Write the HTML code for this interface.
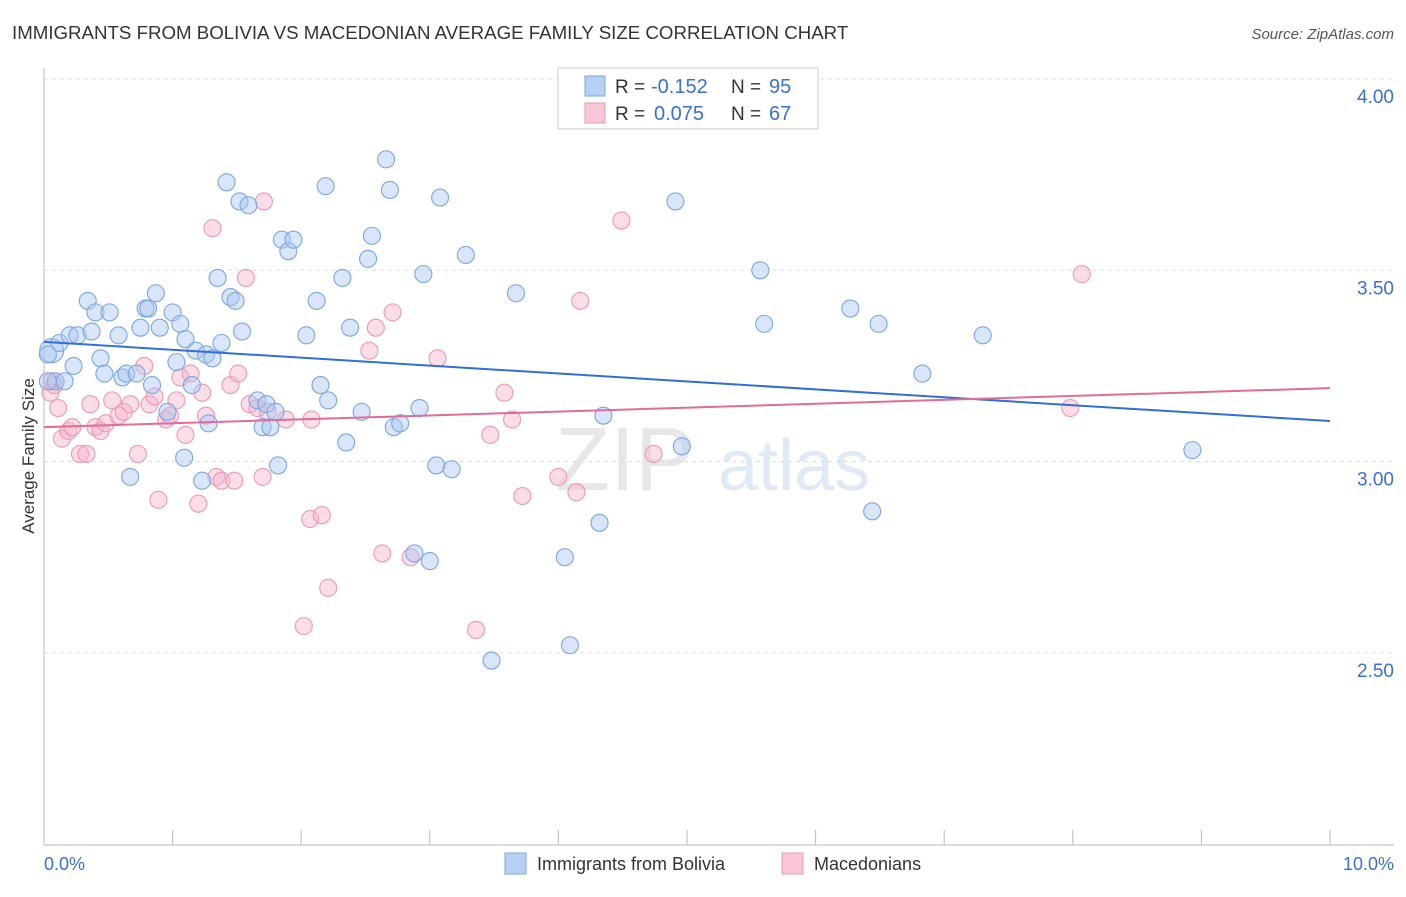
<!DOCTYPE html>
<html><head><meta charset="utf-8"><style>
body{margin:0;background:#fff;font-family:"Liberation Sans",sans-serif;}
svg text{font-family:"Liberation Sans",sans-serif;}
</style></head><body>
<svg width="1406" height="892" xmlns="http://www.w3.org/2000/svg">
<text x="12" y="39" font-size="18.7" fill="#333">IMMIGRANTS FROM BOLIVIA VS MACEDONIAN AVERAGE FAMILY SIZE CORRELATION CHART</text>
<text x="1394" y="39" font-size="15" fill="#555" font-style="italic" text-anchor="end">Source: ZipAtlas.com</text>
<g opacity="0.35">
<text x="555" y="490" font-size="90" font-family="Liberation Serif" fill="#bbb">ZIP</text>
<text x="718" y="490" font-size="72" fill="#a9c4ea">atlas</text>
</g>
<g id="grid"></g>
<g id="axes"></g>
<g id="marks"></g>
<text transform="translate(34,456) rotate(-90)" font-size="17" fill="#333" text-anchor="middle">Average Family Size</text>
<text x="44" y="870" font-size="18" fill="#3b6fd4">0.0%</text>
<text x="1394" y="870" font-size="18" fill="#3b6fd4" text-anchor="end">10.0%</text>
<g>
<rect x="558" y="68" width="260" height="61" fill="#fff" stroke="#ccc"/>
<rect x="585" y="76" width="20" height="20" fill="#b5d0f3" stroke="#7aa6e0"/>
<rect x="585" y="103" width="20" height="20" fill="#f8c6d6" stroke="#e89ab4"/>
<text x="615" y="93" font-size="19" fill="#333">R =</text>
<text x="651" y="93" font-size="20" fill="#3b6fd4">-0.152</text>
<text x="731" y="93" font-size="19" fill="#333">N =</text>
<text x="769" y="93" font-size="20" fill="#3b6fd4">95</text>
<text x="615" y="120" font-size="19" fill="#333">R =</text>
<text x="654" y="120" font-size="20" fill="#3b6fd4">0.075</text>
<text x="731" y="120" font-size="19" fill="#333">N =</text>
<text x="769" y="120" font-size="20" fill="#3b6fd4">67</text>
</g>
<g>
<rect x="505" y="853" width="21" height="21" fill="#b5d0f3" stroke="#7aa6e0"/>
<text x="537" y="870" font-size="18" fill="#333">Immigrants from Bolivia</text>
<rect x="782" y="853" width="21" height="21" fill="#f8c6d6" stroke="#e89ab4"/>
<text x="814" y="870" font-size="18" fill="#333">Macedonians</text>
</g>
</svg>
<script>
const yTicks=[4.0,3.5,3.0,2.5];
const yTickLabels=["4.00","3.50","3.00","2.50"];
const xTicks=[0,1,2,3,4,5,6,7,8,9,10];
const blueX=[.06,.09,.12,.16,.20,.23,.26,.34,.37,.40,.44,.47,.51,.58,.61,.64,.67,.72,.75,.79,.81,.84,.87,.90,.96,1.00,1.03,1.06,1.09,1.10,1.15,1.18,1.23,1.26,1.28,1.31,1.35,1.38,1.42,1.45,1.49,1.52,1.54,1.59,1.66,1.70,1.73,1.76,1.80,1.82,1.85,1.90,1.94,2.04,2.12,2.15,2.19,2.21,2.32,2.35,2.38,2.47,2.52,2.55,2.66,2.69,2.72,2.77,2.88,2.92,2.95,3.00,3.05,3.08,3.17,3.28,3.48,3.67,4.05,4.09,4.32,4.35,4.91,4.96,5.57,5.60,6.27,6.44,6.49,6.83,7.30,8.93,.03,.03];
const blueY=[3.29,3.21,3.31,3.21,3.33,3.25,3.33,3.42,3.34,3.39,3.27,3.23,3.39,3.33,3.22,3.23,2.96,3.23,3.35,3.40,3.40,3.20,3.44,3.35,3.13,3.39,3.26,3.36,3.01,3.32,3.20,3.29,2.95,3.28,3.10,3.27,3.48,3.31,3.73,3.43,3.42,3.68,3.34,3.67,3.16,3.09,3.15,3.09,3.13,2.99,3.58,3.55,3.58,3.33,3.42,3.20,3.72,3.16,3.48,3.05,3.35,3.13,3.53,3.59,3.79,3.71,3.09,3.10,2.76,3.14,3.49,2.74,2.99,3.69,2.98,3.54,2.48,3.44,2.75,2.52,2.84,3.12,3.68,3.04,3.50,3.36,3.40,2.87,3.36,3.23,3.33,3.03,3.28,3.21];
const pinkX=[.05,.08,.11,.14,.19,.22,.28,.33,.36,.40,.44,.48,.53,.58,.62,.67,.73,.78,.82,.86,.89,.95,.98,1.03,1.06,1.10,1.14,1.20,1.23,1.26,1.31,1.34,1.38,1.45,1.48,1.51,1.57,1.60,1.66,1.70,1.71,1.74,1.88,2.07,2.08,2.16,2.21,2.02,2.53,2.58,2.63,2.71,2.85,3.06,3.36,3.47,3.58,3.64,3.72,4.00,4.14,4.17,4.49,4.74,7.98,8.07,.06];
const pinkY=[3.18,3.20,3.14,3.06,3.08,3.09,3.02,3.02,3.15,3.09,3.08,3.10,3.16,3.12,3.13,3.15,3.02,3.25,3.15,3.17,2.90,3.11,3.12,3.16,3.22,3.07,3.23,2.89,3.18,3.12,3.61,2.96,2.95,3.20,2.95,3.23,3.48,3.15,3.14,2.96,3.68,3.13,3.11,2.85,3.11,2.86,2.67,2.57,3.29,3.35,2.76,3.39,2.75,3.27,2.56,3.07,3.18,3.11,2.91,2.96,2.92,3.42,3.63,3.02,3.14,3.49,3.21];
const blueTrend=[3.313,3.106];
const pinkTrend=[3.090,3.192];
const X0=44,X1=1330,Y0=79,PXPER=382.6;
const sx=v=>X0+(X1-X0)*v/10;
const sy=v=>Y0+(4-v)*PXPER;
const NS="http://www.w3.org/2000/svg";
function mk(tag,attrs,parent){const e=document.createElementNS(NS,tag);for(const k in attrs)e.setAttribute(k,attrs[k]);parent.appendChild(e);return e;}
const grid=document.getElementById('grid'),axes=document.getElementById('axes'),marks=document.getElementById('marks');
yTicks.forEach((t,i)=>{
 const l=mk('line',{x1:X0,x2:1394,y1:sy(t),y2:sy(t),stroke:'#ddd','stroke-dasharray':'4,4'},grid);
 
 
 const tx=mk('text',{x:1394,y:sy(t)+24,'font-size':19,fill:'#3b6fd4','text-anchor':'end'},axes);
 tx.textContent=yTickLabels[i];
 
 
});
const ya=mk('line',{x1:X0,x2:X0,y1:68,y2:845,stroke:'#bbb'},axes);


const xa=mk('line',{x1:X0,x2:1394,y1:845,y2:845,stroke:'#bbb'},axes);


xTicks.forEach(t=>{
 const l=mk('line',{x1:sx(t),x2:sx(t),y1:830,y2:845,stroke:'#bbb'},axes);
 
 
});
function pts(xs,ys,fill,stroke,name){
 const g=mk('g',{},marks);
 
 
 xs.forEach((x,i)=>{
  const c=mk('circle',{cx:sx(x),cy:sy(ys[i]),r:(i===0&&name==='bolivia')?12:8.5,fill:fill,stroke:stroke,'stroke-width':1.1},g);
  
  
 });
}
pts(pinkX,pinkY,'rgba(246,180,202,0.45)','#e89ab4','macedonians');
pts(blueX,blueY,'rgba(170,200,242,0.45)','#7aa6e0','bolivia');
const bt=mk('line',{x1:sx(0),y1:sy(blueTrend[0]),x2:sx(10),y2:sy(blueTrend[1]),stroke:'#2f6fd6','stroke-width':2},marks);


const pt=mk('line',{x1:sx(0),y1:sy(pinkTrend[0]),x2:sx(10),y2:sy(pinkTrend[1]),stroke:'#e46a98','stroke-width':2},marks);


</script>
</body></html>
